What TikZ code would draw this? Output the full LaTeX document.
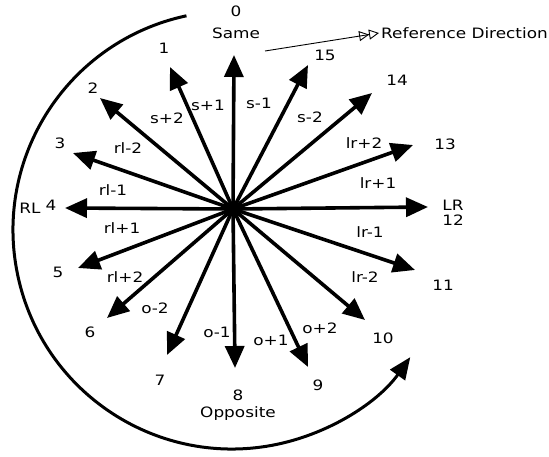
\documentclass[tikz,border=0pt]{standalone}
\usepackage{fontspec}
\setmainfont{DejaVu Sans}[FakeStretch=1.18]
\usetikzlibrary{arrows.meta}
\begin{document}
\begin{tikzpicture}[x=1pt,y=1pt,
  dirarrow/.style={line width=3.6pt,-{Triangle[length=22pt,width=19pt]}},
  bigarc/.style={line width=3pt,-{Triangle[length=22pt,width=18pt]}},
  refarrow/.style={line width=0.9pt,-{Triangle[open,length=10pt,width=10pt,line width=0.9pt]Triangle[open,length=10pt,width=10pt,line width=0.9pt]}},
  lbl/.style={inner sep=0pt,font=\fontsize{14.3pt}{16pt}\selectfont},
  slbl/.style={inner sep=0pt,font=\fontsize{14.3pt}{16pt}\selectfont}]
\useasboundingbox (0,0) rectangle (549,456);
\fill[white] (0,0) rectangle (549,456);
% centre and arrow tips
\coordinate (c) at (233,247);
\coordinate (t0) at (234,401);
\coordinate (t1) at (170,389);
\coordinate (t2) at (100,358);
\coordinate (t3) at (73,303);
\coordinate (t4) at (65,248);
\coordinate (t5) at (78,188);
\coordinate (t6) at (107,138);
\coordinate (t7) at (167,101);
\coordinate (t8) at (235,88);
\coordinate (t9) at (308,89);
\coordinate (t10) at (365,136);
\coordinate (t11) at (415,186);
\coordinate (t12) at (428,249);
\coordinate (t13) at (413,311);
\coordinate (t14) at (372,363);
\coordinate (t15) at (308,391);
\foreach \i in {0,...,15} {\draw[dirarrow] (c) -- (t\i);}
% big arc
\coordinate (ac) at (232,226);
\coordinate (as) at ([shift={(102:219)}]ac);
\draw[bigarc] (as) arc[start angle=102, end angle=324.5, radius=219];
% direction numbers
\node[lbl] (n0) at (236,445) {0};
\node[lbl] (same) at (236,423) {Same};
\node[lbl] (n1) at (164,408) {1};
\node[lbl] (n2) at (93,368) {2};
\node[lbl] (n3) at (60,313) {3};
\node[lbl] (rl) at (30,248) {RL};
\node[lbl] (n4) at (51,251) {4};
\node[lbl] (n5) at (58,184) {5};
\node[lbl] (n6) at (90,124) {6};
\node[lbl] (n7) at (160,76) {7};
\node[lbl] (n8) at (238,61) {8};
\node[lbl] (opp) at (238,42) {Opposite};
\node[lbl] (n9) at (318,71) {9};
\node[lbl] (n10) at (383,118) {10};
\node[lbl] (n11) at (443,171) {11};
\node[lbl] (lr) at (453,251) {LR};
\node[lbl] (n12) at (453,236) {12};
\node[lbl] (n13) at (445,312) {13};
\node[lbl] (n14) at (397,376) {14};
\node[lbl] (n15) at (325,401) {15};
% reference direction
\node[lbl,anchor=west] (ref) at (381,423) {Reference Direction};
\coordinate (rs) at (265,405);
\draw[refarrow] (rs) -- ([xshift=-2pt]ref.west);
% sector labels
\node[slbl] (sp1) at (208,351) {s+1};
\node[slbl] (sm1) at (259,353) {s-1};
\node[slbl] (sp2) at (167,338) {s+2};
\node[slbl] (sm2) at (310,339) {s-2};
\node[slbl] (rlm2) at (128,308) {rl-2};
\node[slbl] (lrp2) at (364,313) {lr+2};
\node[slbl] (rlm1) at (113,266) {rl-1};
\node[slbl] (lrp1) at (378,273) {lr+1};
\node[slbl] (rlp1) at (122,228) {rl+1};
\node[slbl] (lrm1) at (370,224) {lr-1};
\node[slbl] (rlp2) at (125,179) {rl+2};
\node[slbl] (lrm2) at (365,179) {lr-2};
\node[slbl] (om2) at (155,148) {o-2};
\node[slbl] (op2) at (320,128) {o+2};
\node[slbl] (om1) at (217,124) {o-1};
\node[slbl] (op1) at (271,116) {o+1};
\end{tikzpicture}
\end{document}
